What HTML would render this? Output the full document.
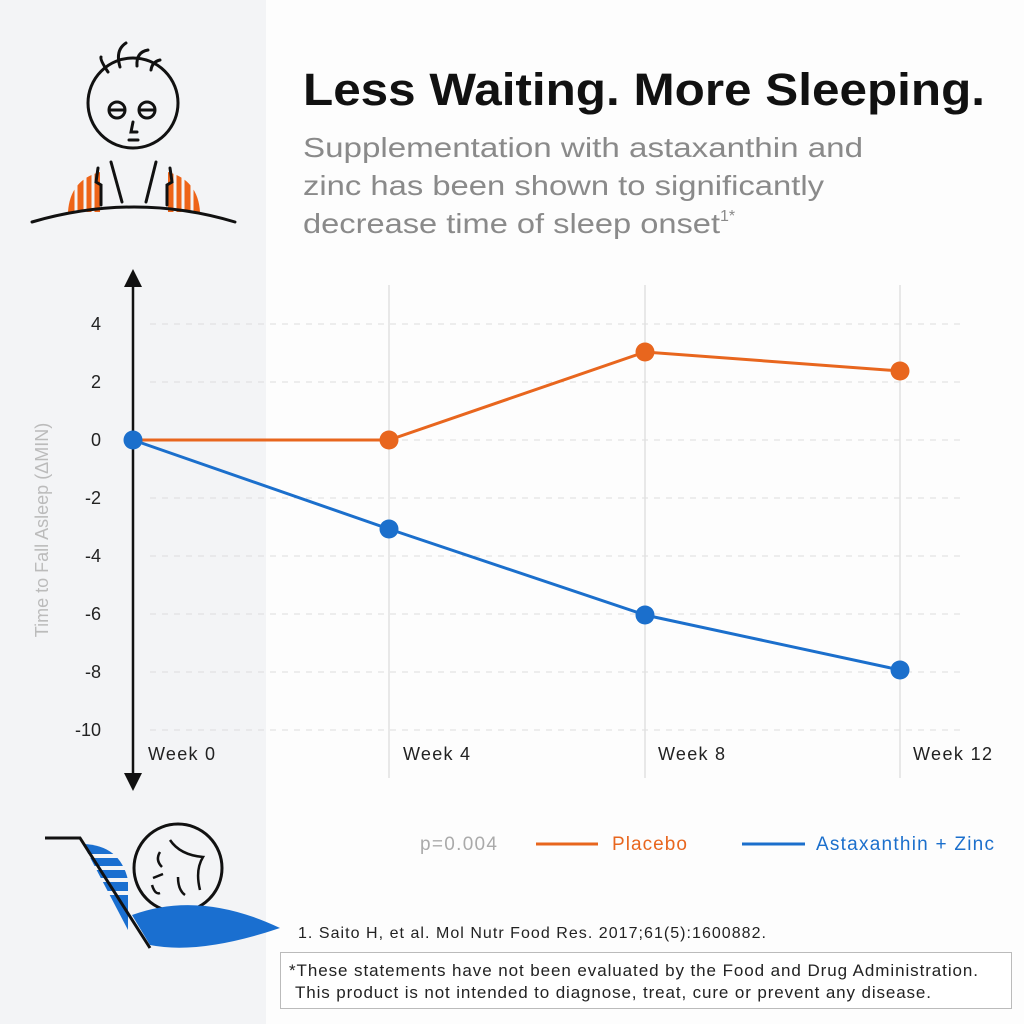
<!DOCTYPE html>
<html><head><style>
body{margin:0;width:1024px;height:1024px;overflow:hidden;background:#fff;font-family:"Liberation Sans",sans-serif}
</style></head><body>
<svg width="1024" height="1024" viewBox="0 0 1024 1024" xmlns="http://www.w3.org/2000/svg" font-family="Liberation Sans, sans-serif">
<rect x="0" y="0" width="266" height="1024" fill="#f3f4f6"/>
<rect x="266" y="0" width="758" height="1024" fill="#fdfdfd"/>
<!-- top illustration -->
<path d="M68 212 Q70 180 100 172 L100 212 Z" fill="#ee6418"/>
<path d="M200 212 Q198 180 168 172 L168 212 Z" fill="#ee6418"/>
<g stroke="#f3f4f6" stroke-width="3"><path d="M76 175 V212 M85 170 V212 M93 170 V212 M175 170 V212 M183 170 V212 M192 175 V212"/></g>
<g stroke="#111" stroke-width="3" fill="none" stroke-linecap="round">
<path d="M32 222 Q135 192 235 222"/>
<circle cx="133" cy="103" r="45"/>
<path d="M108 72 Q100 60 101 57"/><path d="M120 67 Q115 50 126 43"/><path d="M137 66 Q136 52 148 50"/><path d="M151 70 Q152 62 160 60"/>
<circle cx="117" cy="110" r="8"/><circle cx="147" cy="110" r="8"/>
<path d="M110 110 H124 M140 110 H154"/>
<path d="M133 122 L131 132 H137"/><path d="M129 140 H138"/>
<path d="M111 162 L122 202 M156 162 L146 202"/>
<path d="M98 168 L96 182 L101 185 L101 205 M170 168 L172 182 L167 185 L167 205"/>
</g>
<!-- bottom illustration -->
<path d="M83 844 Q120 845 128 880 L128 930 Z" fill="#1a6fd0"/>
<g stroke="#f3f4f6" stroke-width="4"><path d="M85 856 H135 M90 868 H135 M95 880 H135 M100 893 H135"/></g>
<circle cx="178" cy="868" r="44" fill="#f3f4f6" stroke="#111" stroke-width="3"/>
<g stroke="#111" stroke-width="2.5" fill="none"><path d="M170 840 Q180 855 203 857 Q195 870 200 890"/><path d="M160 852 Q155 860 162 867"/><path d="M153 878 L163 874"/><path d="M152 885 Q155 895 160 893"/><path d="M178 877 Q178 890 185 895"/></g>
<path d="M132 915 Q200 890 280 928 Q200 955 150 945 Z" fill="#1a6fd0"/>
<path d="M45 838 H80 L150 948" stroke="#111" stroke-width="3" fill="none"/>
<!-- titles -->
<text x="303" y="105" font-size="45" font-weight="bold" fill="#111" textLength="682" lengthAdjust="spacingAndGlyphs">Less Waiting. More Sleeping.</text>
<g font-size="28" fill="#8a8a8a">
<text x="303" y="157" textLength="560" lengthAdjust="spacingAndGlyphs">Supplementation with astaxanthin and</text>
<text x="303" y="195" textLength="521" lengthAdjust="spacingAndGlyphs">zinc has been shown to significantly</text>
<text x="303" y="233"><tspan textLength="417" lengthAdjust="spacingAndGlyphs">decrease time of sleep onset</tspan><tspan font-size="16" dy="-12">1*</tspan></text>
</g>
<!-- grid -->
<g stroke="#ddd" stroke-width="1" stroke-dasharray="6 6">
<path d="M150 324 H965 M150 382 H965 M150 440 H965 M150 498 H965 M150 556 H965 M150 614 H965 M150 672 H965 M150 730 H965"/>
</g>
<g stroke="#e2e2e2" stroke-width="1.5"><path d="M389 285 V778 M645 285 V778 M900 285 V778"/></g>
<!-- axis -->
<path d="M133 280 V780" stroke="#111" stroke-width="2.5"/>
<path d="M124 287 L133 269 L142 287 Z M124 773 L133 791 L142 773 Z" fill="#111"/>
<g font-size="18" fill="#222" text-anchor="end">
<text x="101" y="330">4</text><text x="101" y="388">2</text><text x="101" y="446">0</text><text x="101" y="504">-2</text><text x="101" y="562">-4</text><text x="101" y="620">-6</text><text x="101" y="678">-8</text><text x="101" y="736">-10</text>
</g>
<text transform="translate(48 530) rotate(-90)" font-size="18" fill="#bbb" text-anchor="middle">Time to Fall Asleep (ΔMIN)</text>
<g font-size="18" fill="#222">
<text x="148" y="760" textLength="67">Week 0</text><text x="403" y="760" textLength="67">Week 4</text><text x="658" y="760" textLength="67">Week 8</text><text x="913" y="760" textLength="79">Week 12</text>
</g>
<!-- series -->
<polyline points="133,440 389,440 645,352 900,371" fill="none" stroke="#e8661e" stroke-width="3"/>
<polyline points="133,440 389,529 645,615 900,670" fill="none" stroke="#1b6fcc" stroke-width="3"/>
<g fill="#e8661e"><circle cx="389" cy="440" r="9.5"/><circle cx="645" cy="352" r="9.5"/><circle cx="900" cy="371" r="9.5"/></g>
<g fill="#1b6fcc"><circle cx="133" cy="440" r="9.5"/><circle cx="389" cy="529" r="9.5"/><circle cx="645" cy="615" r="9.5"/><circle cx="900" cy="670" r="9.5"/></g>
<!-- legend -->
<text x="420" y="850" font-size="19" fill="#aaa" textLength="77">p=0.004</text>
<path d="M536 844 H598" stroke="#e8661e" stroke-width="3"/>
<text x="612" y="850" font-size="19" fill="#e8661e" textLength="75">Placebo</text>
<path d="M742 844 H805" stroke="#1b6fcc" stroke-width="3"/>
<text x="816" y="850" font-size="19" fill="#1b6fcc" textLength="178">Astaxanthin + Zinc</text>
<text x="298" y="938" font-size="16" fill="#222" textLength="468">1. Saito H, et al. Mol Nutr Food Res. 2017;61(5):1600882.</text>
<rect x="280.5" y="952.5" width="731" height="56" fill="#fff" stroke="#bbb"/>
<text x="289" y="976" font-size="17" fill="#222" textLength="689">*These statements have not been evaluated by the Food and Drug Administration.</text>
<text x="295" y="998" font-size="17" fill="#222" textLength="636">This product is not intended to diagnose, treat, cure or prevent any disease.</text>
</svg>
</body></html>
